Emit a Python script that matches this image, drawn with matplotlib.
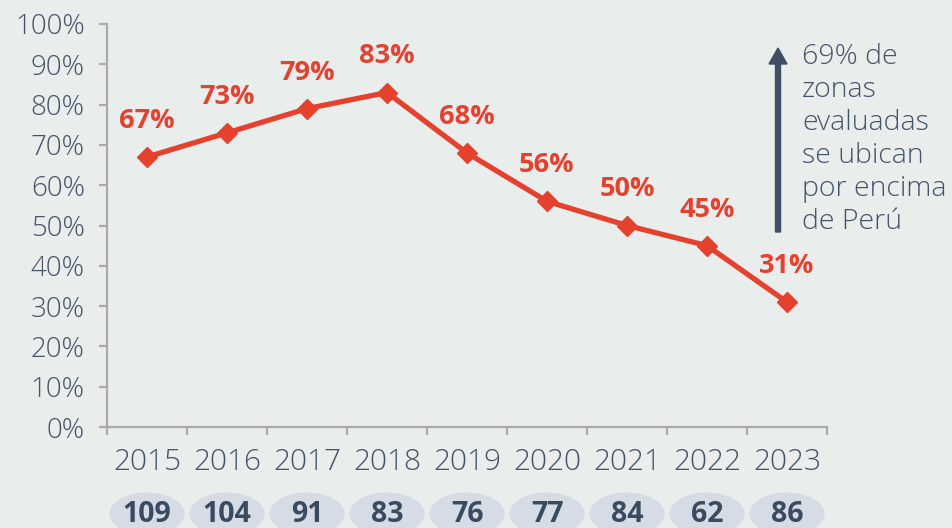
import matplotlib
matplotlib.use("Agg")
import matplotlib.pyplot as plt
from matplotlib.patches import Ellipse, FancyArrow
import matplotlib.transforms as mtransforms

years = ["2015", "2016", "2017", "2018", "2019", "2020", "2021", "2022", "2023"]
values = [67, 73, 79, 83, 68, 56, 50, 45, 31]
counts = [109, 104, 91, 83, 76, 77, 84, 62, 86]
note = "69% de\nzonas\nevaluadas\nse ubican\npor encima\nde Perú"

BG = "#e9edec"
RED = "#e5412f"
TXT = "#46546a"
SPINE = "#a9abab"
BUBBLE = "#d5dce5"

plt.rcParams['font.family'] = ['Open Sans', 'DejaVu Sans']

fig = plt.figure(figsize=(9.52, 5.28), dpi=100, facecolor=BG)
W, H = 952, 528
ax = fig.add_axes([107 / W, 1 - 427 / H, (827 - 107) / W, (427 - 24) / H])
ax.set_facecolor(BG)

xs = [i + 0.5 for i in range(len(years))]
ax.plot(xs, values, color=RED, lw=3.8, marker='D', markersize=10, zorder=3, clip_on=False)
for x, v in zip(xs, values):
    ax.annotate(f"{v}%", (x, v), xytext=(0, 26), textcoords='offset points',
                ha='center', va='center', color=RED, fontsize=19.5, fontweight='bold')

ax.set_xlim(0, len(years))
ax.set_ylim(0, 100)
ax.set_yticks(range(0, 101, 10))
ax.set_yticklabels([f"{t}%" for t in range(0, 101, 10)])
ax.set_xticks(range(0, len(years) + 1))
ax.set_xticklabels([])
ax.set_xticks(xs, minor=True)
ax.set_xticklabels(years, minor=True)

for s in ['top', 'right']:
    ax.spines[s].set_visible(False)
for s in ['left', 'bottom']:
    ax.spines[s].set_color(SPINE)
    ax.spines[s].set_linewidth(1.6)
ax.tick_params(axis='y', which='major', length=6, width=1.6, color=SPINE,
               labelsize=20, labelcolor=TXT, pad=10)
ax.tick_params(axis='x', which='major', length=6, width=1.6, color=SPINE, direction='out')
ax.tick_params(axis='x', which='minor', length=0, labelsize=21.5, labelcolor=TXT, pad=15)
for lab in ax.get_yticklabels() + ax.get_xticklabels(minor=True):
    lab.set_fontweight('light')

trans = mtransforms.blended_transform_factory(ax.transData, ax.transAxes)
for x, c in zip(xs, counts):
    e = Ellipse((x, -0.215), 0.94, 0.105, transform=trans, facecolor=BUBBLE,
                edgecolor='none', clip_on=False, zorder=1)
    ax.add_patch(e)
    ax.text(x, -0.218, str(c), transform=trans, ha='center', va='center',
            fontsize=20.5, fontweight='bold', color="#3a4a5f", zorder=2, clip_on=False)

# arrow and note
fig.patches.append(FancyArrow(
    778 / W, 1 - 232 / H, 0, (232 - 48) / H, width=5 / W, head_width=18 / W,
    head_length=16 / H, length_includes_head=True, transform=fig.transFigure,
    color="#3f4e63", figure=fig))
fig.text(802 / W, 1 - 43 / H, note, ha='left', va='top', fontsize=20.5,
         color=TXT, fontweight='light', linespacing=1.24)

fig.savefig("out.png", dpi=100, facecolor=BG)
